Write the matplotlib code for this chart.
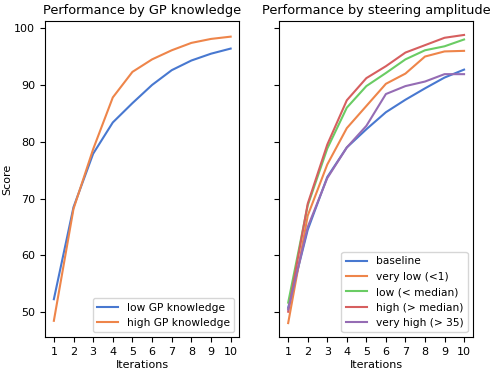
import matplotlib
matplotlib.use("Agg")
import matplotlib.pyplot as plt

iterations = list(range(1, 11))

gp_low = [52.3, 68.5, 77.9, 83.4, 86.8, 90.0, 92.6, 94.3, 95.5, 96.4]
gp_high = [48.5, 68.2, 78.7, 87.8, 92.3, 94.5, 96.1, 97.4, 98.1, 98.5]

st_baseline = [50.8, 64.5, 73.8, 79.0, 82.2, 85.2, 87.4, 89.4, 91.3, 92.7]
st_very_low = [48.1, 67.0, 76.0, 82.4, 86.3, 90.2, 92.0, 95.0, 95.9, 96.0]
st_low = [51.7, 68.8, 78.8, 86.0, 89.8, 92.1, 94.5, 96.1, 96.8, 98.0]
st_high = [50.1, 69.1, 79.5, 87.3, 91.2, 93.3, 95.7, 97.0, 98.3, 98.8]
st_very_high = [50.5, 65.0, 73.6, 79.0, 82.8, 88.4, 89.8, 90.6, 91.9, 91.9]

gp_labels = ["low GP knowledge", "high GP knowledge"]
st_labels = ["baseline", "very low (<1)", "low (< median)", "high (> median)", "very high (> 35)"]

colors = ["#4878d0", "#ee854a", "#6acc64", "#d65f5f", "#956cb4"]

fig = plt.figure(figsize=(4.98, 3.74), dpi=100)
ax1 = fig.add_axes([0.0904, 0.0976, 0.3905, 0.8475])
ax2 = fig.add_axes([0.5610, 0.0976, 0.3885, 0.8475], sharey=ax1)

for vals, lab, c in zip([gp_low, gp_high], gp_labels, colors):
    ax1.plot(iterations, vals, color=c, label=lab, lw=1.5)
for vals, lab, c in zip([st_baseline, st_very_low, st_low, st_high, st_very_high], st_labels, colors):
    ax2.plot(iterations, vals, color=c, label=lab, lw=1.5)

ax1.set_title("Performance by GP knowledge", fontsize=9.3, pad=5)
ax2.set_title("Performance by steering amplitude", fontsize=9.3, pad=5)
ax1.set_ylabel("Score", fontsize=8, labelpad=1.5)
for ax in (ax1, ax2):
    ax.set_xlabel("Iterations", fontsize=8, labelpad=2)
    ax.set_xticks(iterations)
    ax.tick_params(labelsize=8)
    ax.legend(loc="lower right", fontsize=7.7)
ax1.set_yticks([50, 60, 70, 80, 90, 100])
plt.setp(ax2.get_yticklabels(), visible=False)

fig.savefig("out.png", dpi=100)
